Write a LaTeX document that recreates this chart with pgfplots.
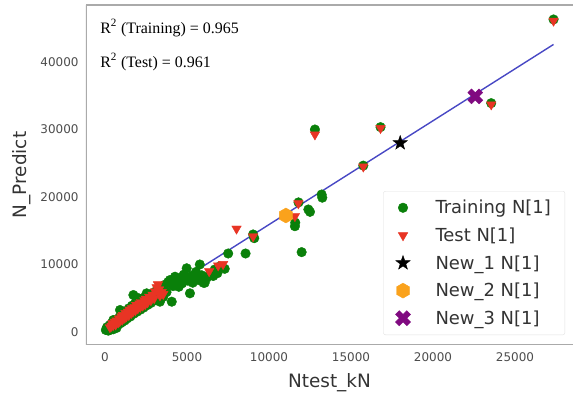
\documentclass[border=0pt]{standalone}
\usepackage{fontspec}
\setmainfont{DejaVu Sans}
\newfontfamily\tnr{Liberation Serif}
\usepackage{pgfplots}
\pgfplotsset{compat=1.18}
\usetikzlibrary{plotmarks}

\definecolor{cgreen}{RGB}{10,128,10}
\definecolor{cred}{RGB}{232,52,36}
\definecolor{corange}{RGB}{250,162,28}
\definecolor{cpurple}{RGB}{128,10,128}
\definecolor{cline}{RGB}{72,72,196}
\definecolor{spine}{RGB}{170,170,170}

\pgfdeclareplotmark{hexa}{%
 \pgfpathmoveto{\pgfpointpolar{90}{\pgfplotmarksize}}%
 \pgfpathlineto{\pgfpointpolar{150}{\pgfplotmarksize}}%
 \pgfpathlineto{\pgfpointpolar{210}{\pgfplotmarksize}}%
 \pgfpathlineto{\pgfpointpolar{270}{\pgfplotmarksize}}%
 \pgfpathlineto{\pgfpointpolar{330}{\pgfplotmarksize}}%
 \pgfpathlineto{\pgfpointpolar{30}{\pgfplotmarksize}}%
 \pgfpathclose\pgfusepathqfillstroke}

\pgfdeclareplotmark{fstar}{%
 \pgfpathmoveto{\pgfpointpolar{90}{\pgfplotmarksize}}%
 \pgfpathlineto{\pgfpointpolar{126}{0.4\pgfplotmarksize}}%
 \pgfpathlineto{\pgfpointpolar{162}{\pgfplotmarksize}}%
 \pgfpathlineto{\pgfpointpolar{198}{0.4\pgfplotmarksize}}%
 \pgfpathlineto{\pgfpointpolar{234}{\pgfplotmarksize}}%
 \pgfpathlineto{\pgfpointpolar{270}{0.4\pgfplotmarksize}}%
 \pgfpathlineto{\pgfpointpolar{306}{\pgfplotmarksize}}%
 \pgfpathlineto{\pgfpointpolar{342}{0.4\pgfplotmarksize}}%
 \pgfpathlineto{\pgfpointpolar{18}{\pgfplotmarksize}}%
 \pgfpathlineto{\pgfpointpolar{54}{0.4\pgfplotmarksize}}%
 \pgfpathclose\pgfusepathqfillstroke}

\pgfdeclareplotmark{fx}{%
 \pgftransformrotate{45}%
 \pgfpathmoveto{\pgfpoint{0.33\pgfplotmarksize}{0.33\pgfplotmarksize}}%
 \pgfpathlineto{\pgfpoint{0.33\pgfplotmarksize}{\pgfplotmarksize}}%
 \pgfpathlineto{\pgfpoint{-0.33\pgfplotmarksize}{\pgfplotmarksize}}%
 \pgfpathlineto{\pgfpoint{-0.33\pgfplotmarksize}{0.33\pgfplotmarksize}}%
 \pgfpathlineto{\pgfpoint{-\pgfplotmarksize}{0.33\pgfplotmarksize}}%
 \pgfpathlineto{\pgfpoint{-\pgfplotmarksize}{-0.33\pgfplotmarksize}}%
 \pgfpathlineto{\pgfpoint{-0.33\pgfplotmarksize}{-0.33\pgfplotmarksize}}%
 \pgfpathlineto{\pgfpoint{-0.33\pgfplotmarksize}{-\pgfplotmarksize}}%
 \pgfpathlineto{\pgfpoint{0.33\pgfplotmarksize}{-\pgfplotmarksize}}%
 \pgfpathlineto{\pgfpoint{0.33\pgfplotmarksize}{-0.33\pgfplotmarksize}}%
 \pgfpathlineto{\pgfpoint{\pgfplotmarksize}{-0.33\pgfplotmarksize}}%
 \pgfpathlineto{\pgfpoint{\pgfplotmarksize}{0.33\pgfplotmarksize}}%
 \pgfpathclose\pgfusepathqfillstroke}

\begin{document}
\begin{tikzpicture}
\useasboundingbox (-86bp,-48bp) rectangle (487bp,345bp);
\begin{axis}[
  at={(0,0)}, anchor=south west,
  scale only axis, width=487bp, height=340bp,
  xmin=-1159, xmax=28537, ymin=-1926, ymax=48444,
  axis line style={draw=none},
  major tick length=0pt,
  xtick={0,5000,10000,15000,20000,25000},
  ytick={0,10000,20000,30000,40000},
  scaled ticks=false,
  /pgf/number format/assume math mode=true,
  /pgf/number format/set thousands separator={},
  tick label style={font=\fontsize{12}{14}\selectfont, text=black!70},
  xticklabel style={yshift=-4bp},
  yticklabel style={xshift=-4bp},
  xlabel={Ntest\_kN}, ylabel={N\_Predict},
  label style={font=\fontsize{18.5}{22}\selectfont, text=black!80},
  xlabel style={yshift=-5bp},
  ylabel style={yshift=3bp},
  legend cell align=left,
  legend image code/.code={\draw[mark repeat=2,mark phase=2,#1] plot coordinates {(0bp,0bp)(12bp,0bp)(24bp,0bp)};},
  legend style={at={(0.9836,0.0294)}, anchor=south east,
    font=\fontsize{18}{21}\selectfont, text=black!80,
    draw=black!12, rounded corners=2bp, inner xsep=12bp, inner ysep=7bp,
    row sep=8.5bp, nodes={inner sep=2bp},
    /tikz/every odd column/.append style={column sep=23bp}},
  legend columns=1,
]
\draw[spine, line width=1.3bp] (rel axis cs:0,1) -- (rel axis cs:0,0) -- (rel axis cs:1,0);
\draw[spine, line width=1.3bp] (rel axis cs:0,1) -- (rel axis cs:1,1);
\addplot[only marks, mark=*, mark size=4.8bp, draw=cgreen, fill=cgreen] coordinates {
(50,300)(120,700)(200,200)(280,1000)(300,300)(350,800)(420,1300)(500,400)(510,1780)(580,900)
(650,1500)(700,600)(760,1900)(800,1100)(880,2200)(915,3260)(950,1300)(1000,2600)(1050,1500)(1150,2900)
(1200,1700)(1300,3100)(1350,2000)(1450,3500)(1520,2770)(1550,2300)(1650,3900)(1730,5480)(1750,2700)(1850,4300)
(1950,3000)(2010,5040)(2050,4600)(2150,3300)(2250,4900)(2350,3600)(2450,5200)(2540,5730)(2600,4000)(2700,5500)
(2800,4300)(2950,5800)(3050,4700)(3150,6200)(3350,4490)(3450,6500)(3550,5200)(3650,7000)(3750,5900)(3850,7400)
(3960,7700)(4070,4490)(4150,6800)(4270,8190)(4400,7500)(4500,6700)(4600,8000)(4700,7200)(4800,8500)(4980,9440)
(5050,7600)(5180,5730)(5250,8300)(5350,7300)(5460,8190)(5550,8900)(5700,7700)(5780,10000)(5900,8400)(6000,7300)
(6080,7290)(6200,8000)(6400,8600)(6600,8300)(6690,9260)(6850,8700)(7000,9700)(7300,9360)(7510,11630)(8570,11630)
(9030,14450)(9100,13900)(11580,15670)(11600,16200)(11990,11830)(12400,18150)(12500,17800)(11800,19200)(12800,30000)(13210,20370)
(13250,19900)(15750,24650)(16800,30350)(23550,33900)(27350,46300)
};
\addlegendentry{Training N[1]}
\addplot[only marks, mark=triangle*, mark size=5.5bp, mark options={rotate=180}, draw=cred, fill=cred] coordinates {
(300,700)(400,900)(450,1300)(500,1000)(600,1500)(650,1100)(700,1700)(800,1400)(850,2000)(900,1600)
(1000,2300)(1050,1800)(1100,2500)(1200,2100)(1250,2800)(1300,2300)(1400,3000)(1450,2500)(1500,3300)(1600,2800)
(1650,3500)(1700,3000)(1800,3700)(1850,3200)(1900,4000)(2000,3500)(2100,4200)(2150,3700)(2200,4400)(2300,3900)
(2400,4700)(2450,4100)(2500,4900)(2600,4400)(2700,5200)(2800,4700)(2900,5500)(3000,5000)(3050,6000)(3150,6600)
(3230,7050)(3300,6300)(3350,5400)(3450,5900)(3550,5600)(6350,9000)(6900,9850)(7200,10050)(8020,15300)(9030,14150)
(11580,17150)(11790,19050)(12800,29250)(15750,24500)(16800,30200)(23550,33700)(27350,46100)
};
\addlegendentry{Test N[1]}
\addplot[no marks, cline, line width=1.4bp, forget plot] coordinates {(100,686)(27350,42600)};
\addplot[only marks, mark=fstar, mark size=7.5bp, draw=black, fill=black] coordinates {(18000,28000)};
\addlegendentry{New\_1 N[1]}
\addplot[only marks, mark=hexa, mark size=7.5bp, draw=corange, fill=corange] coordinates {(11030,17260)};
\addlegendentry{New\_2 N[1]}
\addplot[only marks, mark=fx, mark size=8bp, draw=cpurple, fill=cpurple] coordinates {(22580,34900)};
\addlegendentry{New\_3 N[1]}
\node[anchor=west, font=\tnr\fontsize{16}{18}\selectfont, inner sep=0pt] at (rel axis cs:0.029,0.932) {R\textsuperscript{2} (Training) = 0.965};
\node[anchor=west, font=\tnr\fontsize{16}{18}\selectfont, inner sep=0pt] at (rel axis cs:0.029,0.832) {R\textsuperscript{2} (Test) = 0.961};
\end{axis}
\end{tikzpicture}
\end{document}
